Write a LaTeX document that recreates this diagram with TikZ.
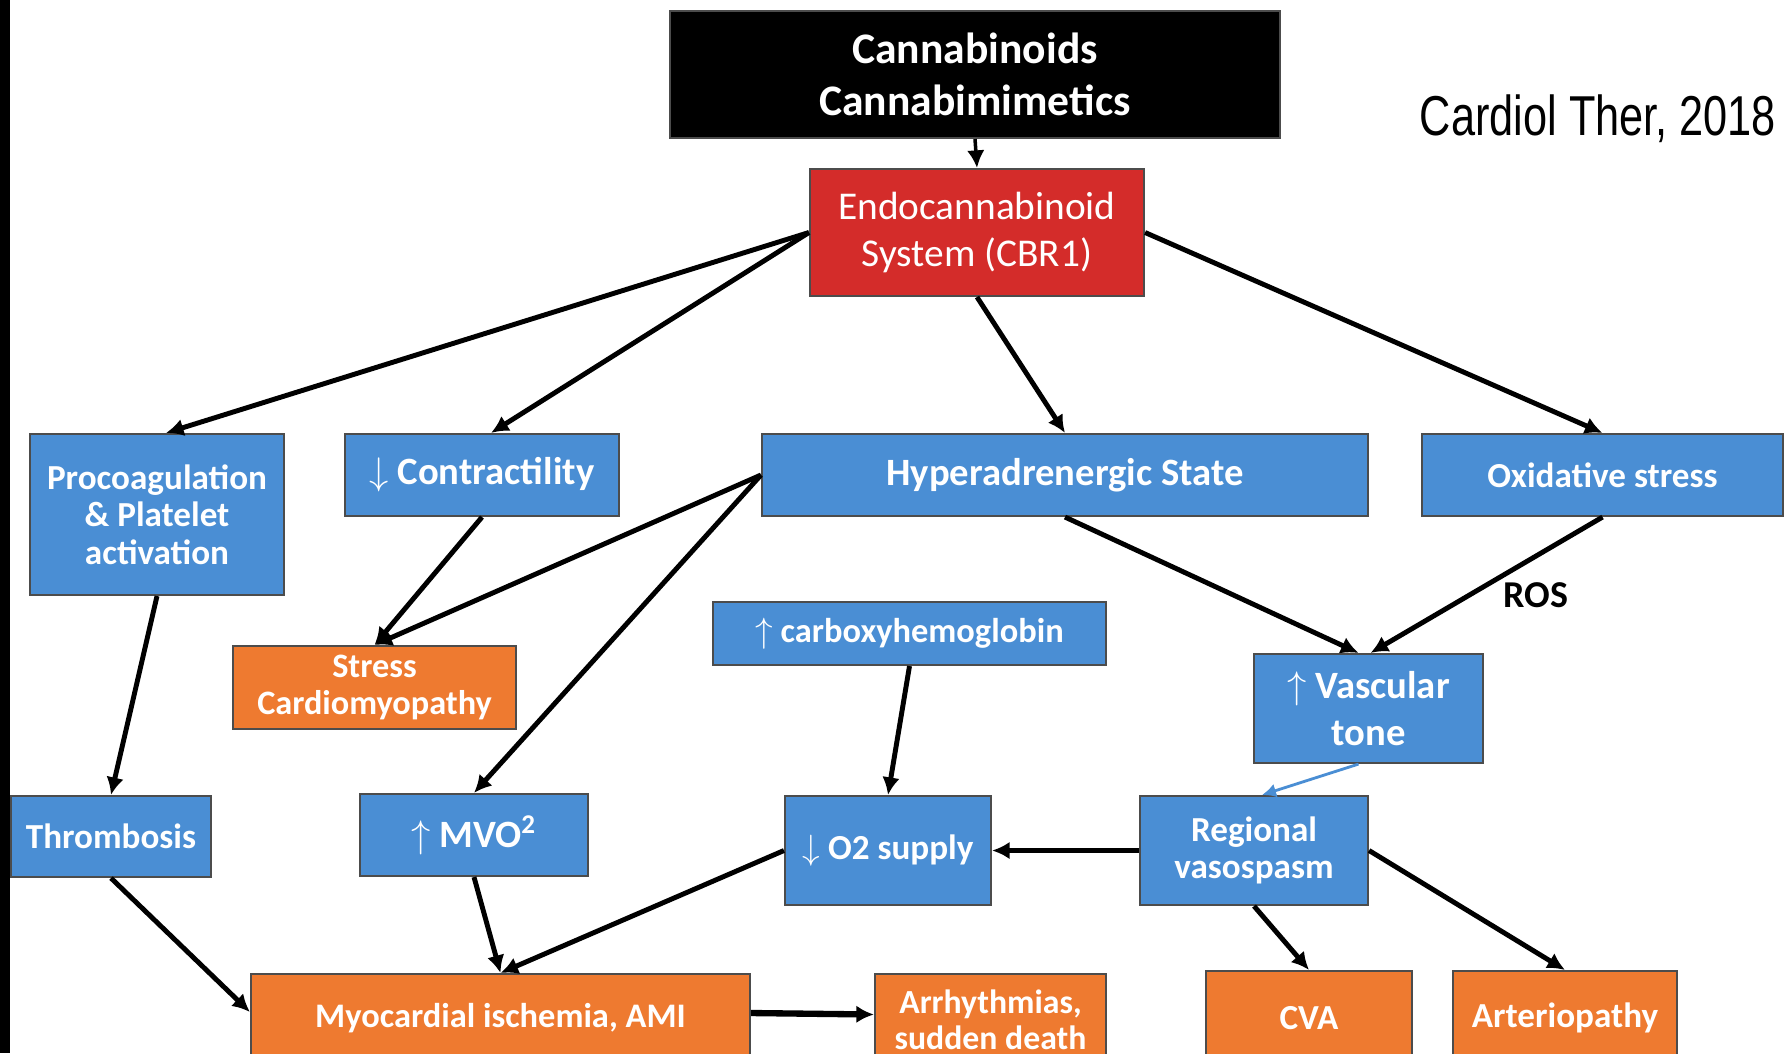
\documentclass[tikz,border=0pt]{standalone}
\usepackage{fontspec}
\usepackage{xcolor}
\usetikzlibrary{arrows.meta}
\newfontfamily\carlito{Carlito}
\newfontfamily\narrowsans[FakeStretch=0.77]{Liberation Sans}
\definecolor{boxblue}{HTML}{4A8ED4}
\definecolor{boxorange}{HTML}{EE7A30}
\definecolor{boxred}{HTML}{D42C2A}
\tikzset{
  box/.style={draw=black!70, line width=0.6pt, text=white, align=center, inner sep=0pt},
  bluebox/.style={box, fill=boxblue},
  orangebox/.style={box, fill=boxorange},
  fs/.style 2 args={font=\carlito\bfseries\fontsize{#1}{#2}\selectfont},
  arr/.style={black, line width=1.4pt, -{Latex[length=5pt,width=5pt]}},
}

\begin{document}
\begin{tikzpicture}
        \useasboundingbox (0,0) rectangle (17.91,-10.53);
        \clip (0,0) rectangle (17.91,-10.53);
        \fill [white] (0,0) rectangle (17.91,-10.53);
        \fill [black] (0,0) rectangle (0.1,-10.53);

        % top of the cascade
        \node [box, fill=black, fs={12.4}{14.6}, minimum width=6.10cm, minimum height=1.27cm] (canna) at (9.75,-0.745) {Cannabinoids\\Cannabimimetics};
        \node [box, fill=boxred, font=\carlito\fontsize{11.2}{13.3}\selectfont, minimum width=3.34cm, minimum height=1.27cm] (endo) at (9.77,-2.325) {Endocannabinoid\\System (CBR1)};
        \node [font=\narrowsans\fontsize{16}{18}\selectfont, anchor=base] (source) at (15.98,-1.35) {Cardiol Ther, 2018};

        % second row
        \node [bluebox, fs={10}{10.6}, minimum width=2.54cm, minimum height=1.61cm] (procoag) at (1.57,-5.145) {Procoagulation\\\& Platelet\\activation};
        \node [bluebox, fs={11}{13}, minimum width=2.74cm, minimum height=0.82cm] (contr) at (4.82,-4.75) {$\downarrow$ Contractility};
        \node [bluebox, fs={11}{13}, minimum width=6.06cm, minimum height=0.82cm] (hyper) at (10.65,-4.75) {Hyperadrenergic State};
        \node [bluebox, fs={10}{12}, minimum width=3.61cm, minimum height=0.82cm] (oxid) at (16.025,-4.75) {Oxidative stress};

        % middle
        \node [orangebox, fs={9.75}{10.4}, minimum width=2.83cm, minimum height=0.83cm] (stress) at (3.745,-6.875) {Stress\\Cardiomyopathy};
        \node [bluebox, fs={9.8}{12}, minimum width=3.93cm, minimum height=0.63cm] (carboxy) at (9.095,-6.335) {$\uparrow$ carboxyhemoglobin};
        \node [bluebox, fs={11}{13.3}, minimum width=2.29cm, minimum height=1.09cm] (vasc) at (13.685,-7.085) {$\uparrow$ Vascular\\tone};
        \node [font=\carlito\bfseries\fontsize{10.8}{12}\selectfont] (ros) at (15.36,-5.95) {ROS};

        \node [bluebox, fs={10}{12}, minimum width=2.00cm, minimum height=0.81cm] (thromb) at (1.11,-8.365) {Thrombosis};
        \node [bluebox, fs={11}{13}, minimum width=2.28cm, minimum height=0.82cm] (mvo) at (4.74,-8.35) {$\uparrow$ MVO\textsuperscript{2}};
        \node [bluebox, fs={10}{12}, minimum width=2.06cm, minimum height=1.09cm] (otwo) at (8.88,-8.505) {$\downarrow$ O2 supply};
        \node [bluebox, fs={10}{10.4}, minimum width=2.28cm, minimum height=1.09cm] (regio) at (12.54,-8.505) {Regional\\vasospasm};

        % outcomes
        \node [orangebox, fs={9.8}{12}, minimum width=4.99cm, minimum height=0.88cm] (myo) at (5.005,-10.18) {Myocardial ischemia, AMI};
        \node [orangebox, fs={9.6}{10.3}, minimum width=2.31cm, minimum height=0.91cm] (arrh) at (9.905,-10.195) {Arrhythmias,\\sudden death};
        \node [orangebox, fs={10}{12}, minimum width=2.06cm, minimum height=0.94cm] (cva) at (13.09,-10.18) {CVA};
        \node [orangebox, fs={10}{12}, minimum width=2.24cm, minimum height=0.94cm] (arter) at (15.65,-10.18) {Arteriopathy};

        \draw [arr, line width=1pt] (canna.south) to (endo.north);
        \draw [arr] (endo.west) to ([xshift=0.09cm]procoag.north);
        \draw [arr] (endo.west) to ([xshift=0.09cm]contr.north);
        \draw [arr] (endo.south) to (hyper.north);
        \draw [arr] (endo.east) to (oxid.north);

        \draw [arr] (contr.south) to (stress.north);
        \draw [arr] (hyper.west) to (stress.north);
        \draw [arr] (hyper.west) to (mvo.north);
        \draw [arr] (hyper.south) to ([xshift=-0.1cm]vasc.north);
        \draw [arr] (oxid.south) to ([xshift=0.02cm]vasc.north);

        \draw [arr] (procoag.south) to (thromb.north);
        \draw [arr] (carboxy.south) to (otwo.north);
        \draw [boxblue, line width=0.8pt, -{Latex[length=4pt,width=4pt]}] ([xshift=-0.1cm]vasc.south) to ([xshift=0.08cm]regio.north);
        \draw [arr] (regio.west) to (otwo.east);

        \draw [arr] (thromb.south) to ([yshift=0.06cm]myo.west);
        \draw [arr] (mvo.south) to (myo.north);
        \draw [arr] (otwo.west) to (myo.north);
        \draw [arr, line width=1.8pt] ([yshift=0.05cm]myo.east) to ([yshift=0.05cm]arrh.west);
        \draw [arr] (regio.south) to (cva.north);
        \draw [arr] (regio.east) to (arter.north);
    \end{tikzpicture}
\end{document}
